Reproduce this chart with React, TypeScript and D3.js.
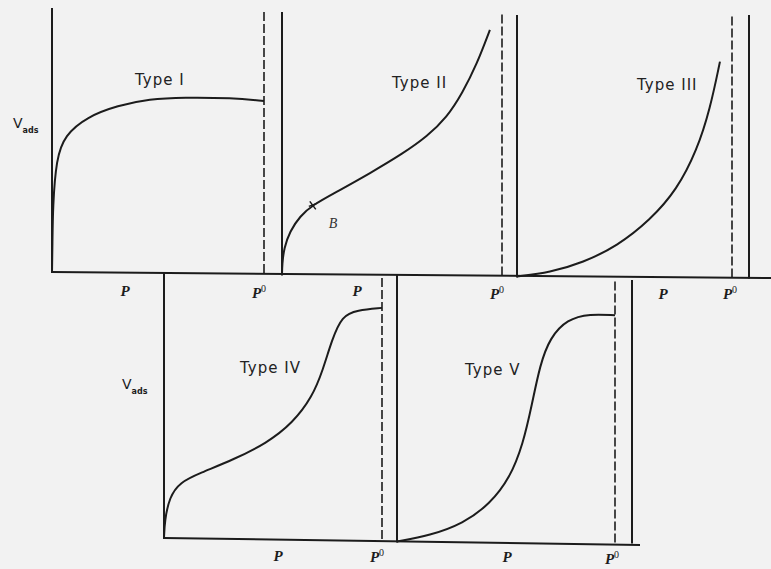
import React, { useEffect, useRef } from 'react';
import * as d3 from 'd3';

const W = 771;
const H = 569;
const ink = '#1c1c1c';

// isotherm shapes, [P/P0, Vads] with Vads normalised to the axis height
const typeI = [[0, 0], [0.002, 0.1], [0.004, 0.25], [0.02, 0.43], [0.06, 0.52], [0.165, 0.59], [0.31, 0.633], [0.46, 0.658], [0.62, 0.664], [0.85, 0.662], [1, 0.65]];
const typeII = [[0, 0], [0.001, 0.04], [0.009, 0.1], [0.036, 0.165], [0.082, 0.222], [0.14, 0.265], [0.25, 0.315], [0.4, 0.385], [0.55, 0.46], [0.66, 0.525], [0.75, 0.598], [0.82, 0.69], [0.886, 0.8], [0.945, 0.93]];
const typeIII = [[0, 0], [0.153, 0.015], [0.307, 0.053], [0.465, 0.115], [0.62, 0.215], [0.744, 0.33], [0.837, 0.48], [0.898, 0.637], [0.944, 0.817]];
const typeIV = [[0, 0], [0.003, 0.065], [0.025, 0.156], [0.073, 0.212], [0.165, 0.247], [0.316, 0.297], [0.472, 0.361], [0.59, 0.437], [0.68, 0.536], [0.729, 0.639], [0.77, 0.753], [0.817, 0.845], [0.885, 0.866], [1, 0.875]];
const typeV = [[0, 0], [0.151, 0.023], [0.303, 0.068], [0.427, 0.143], [0.518, 0.242], [0.578, 0.37], [0.619, 0.521], [0.656, 0.672], [0.702, 0.775], [0.78, 0.845], [0.885, 0.866], [1, 0.86]];

const typeNames = ['Type I', 'Type II', 'Type III', 'Type IV', 'Type V'];
const curves = [typeI, typeII, typeIII, typeIV, typeV];
const pointB = [0.14, 0.263];

// panel layout (pixels)
const panels = [
  { x0: 52, x1: 264, base: 272, axisTop: 8, dashTop: 11, label: [135, 85], pLab: [125, 296], p0Lab: [262, 298], vads: [13, 128] },
  { x0: 282, x1: 502, base: 274.5, axisTop: 12, dashTop: 12, label: [392, 88], pLab: [357, 296], p0Lab: [500, 299] },
  { x0: 517, x1: 732, base: 276.5, axisTop: 15, dashTop: 15, right: 749, label: [637, 90], pLab: [663, 299], p0Lab: [733, 299] },
  { x0: 164, x1: 382, base: 538, axisTop: 272, dashTop: 278, label: [240, 373], pLab: [278, 561], p0Lab: [380, 562], vads: [122, 389] },
  { x0: 397, x1: 615, base: 541.5, axisTop: 275, dashTop: 280, right: 632, label: [465, 375], pLab: [507, 562], p0Lab: [615, 564] },
];
const axisH = 263;

const App = () => {
  const svgRef = useRef<SVGSVGElement>(null);

  useEffect(() => {
    const svg = d3.select(svgRef.current);
    svg.selectAll('*').remove();

    svg.append('rect').attr('width', W).attr('height', H).attr('fill', '#f2f2f2');

    // long baselines shared by the panels of each row
    svg.append('line').attr('x1', 52).attr('y1', 272).attr('x2', W).attr('y2', 278)
      .attr('stroke', ink).attr('stroke-width', 2);
    svg.append('line').attr('x1', 164).attr('y1', 538).attr('x2', 640).attr('y2', 545)
      .attr('stroke', ink).attr('stroke-width', 2);

    panels.forEach((p, i) => {
      const x = d3.scaleLinear().domain([0, 1]).range([p.x0, p.x1]);
      const y = d3.scaleLinear().domain([0, 1]).range([p.base, p.base - axisH]);
      const g = svg.append('g');

      g.append('line').attr('x1', p.x0).attr('x2', p.x0).attr('y1', p.base + 1).attr('y2', p.axisTop)
        .attr('stroke', ink).attr('stroke-width', 2);
      g.append('line').attr('x1', p.x1).attr('x2', p.x1).attr('y1', p.base + 1).attr('y2', p.dashTop)
        .attr('stroke', ink).attr('stroke-width', 1.6).attr('stroke-dasharray', '9,3');
      if (p.right) {
        g.append('line').attr('x1', p.right).attr('x2', p.right).attr('y1', p.base + 2).attr('y2', p.dashTop)
          .attr('stroke', ink).attr('stroke-width', 2);
      }

      const line = d3.line<number[]>().x(d => x(d[0])).y(d => y(d[1])).curve(d3.curveBasis);
      g.append('path').attr('d', line(curves[i]) as string)
        .attr('fill', 'none').attr('stroke', ink).attr('stroke-width', 2);

      g.append('text').attr('x', p.label[0]).attr('y', p.label[1])
        .attr('font-family', 'DejaVu Sans').attr('font-size', 15).attr('letter-spacing', 1)
        .attr('fill', '#222').text(typeNames[i]);

      const pl = g.append('text').attr('font-family', 'Liberation Serif').attr('font-style', 'italic')
        .attr('font-weight', 'bold').attr('font-size', 15).attr('fill', ink).attr('text-anchor', 'middle');
      pl.append('tspan').attr('x', p.pLab[0]).attr('y', p.pLab[1]).text('P');
      const p0 = g.append('text').attr('font-family', 'Liberation Serif').attr('font-style', 'italic')
        .attr('font-weight', 'bold').attr('font-size', 15).attr('fill', ink).attr('text-anchor', 'middle');
      p0.append('tspan').attr('x', p.p0Lab[0] - 3).attr('y', p.p0Lab[1]).text('P');
      p0.append('tspan').attr('dy', -6).attr('font-size', 10).attr('font-style', 'normal').attr('font-weight', 'normal').text('0');

      if (p.vads) {
        const v = g.append('text').attr('font-family', 'DejaVu Sans').attr('fill', ink);
        v.append('tspan').attr('x', p.vads[0]).attr('y', p.vads[1]).attr('font-size', 14).text('V');
        v.append('tspan').attr('dy', 5).attr('font-size', 8).attr('font-weight', 'bold').text('ads');
      }

      if (i === 1) {
        const bx = x(pointB[0]);
        const by = y(pointB[1]);
        g.append('path').attr('d', `M${bx - 3},${by - 4}L${bx + 3},${by + 4}M${bx - 4},${by + 1}L${bx + 4},${by - 2}`)
          .attr('stroke', ink).attr('stroke-width', 1.5);
        g.append('text').attr('x', bx + 16).attr('y', by + 23)
          .attr('font-family', 'Liberation Serif').attr('font-style', 'italic')
          .attr('font-size', 14).attr('fill', '#333').text('B');
      }
    });
  }, []);

  return (
    <svg ref={svgRef} width={W} height={H} style={{ position: 'absolute', left: 0, top: 0 }} />
  );
};

export default App;
